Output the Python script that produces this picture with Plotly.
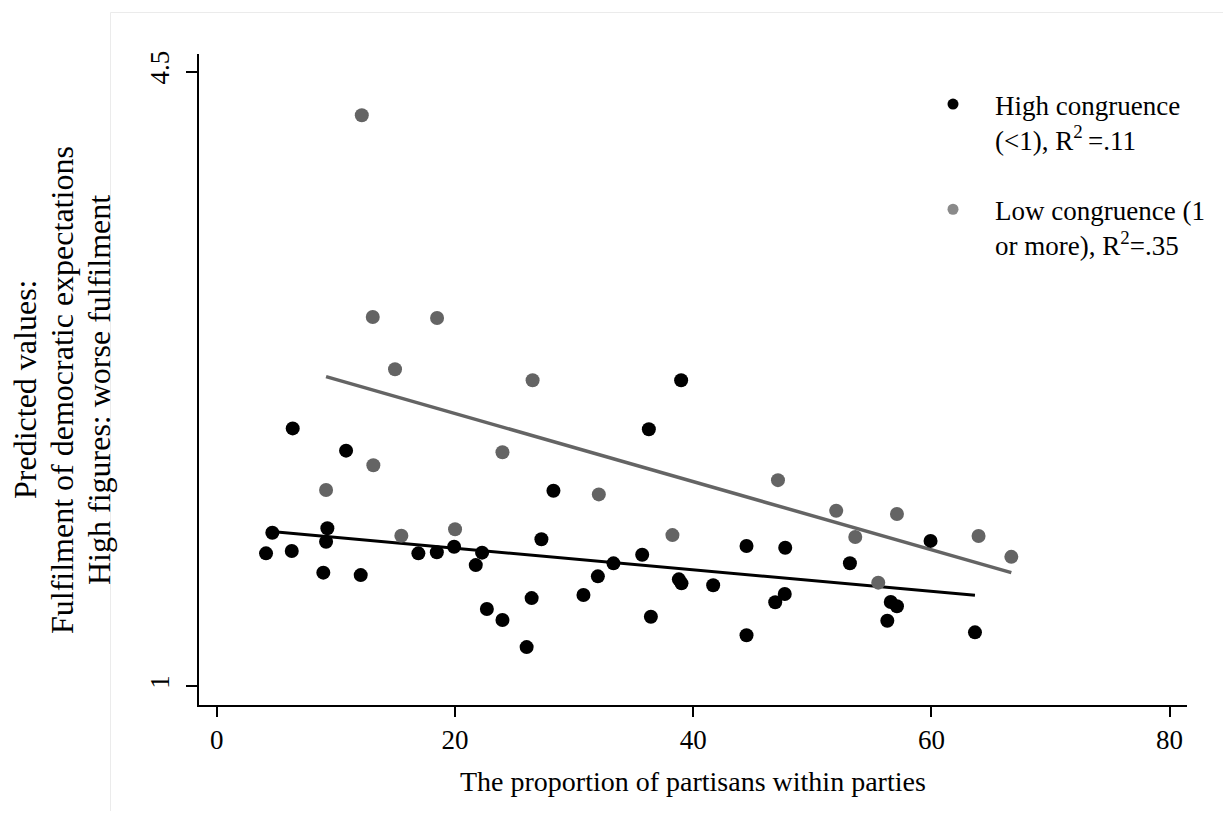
import plotly.graph_objects as go

# ---- data ----
high_x = [4.14, 4.67, 6.30, 6.38, 8.95, 9.18, 9.29, 10.86, 12.09, 16.93, 18.48, 19.93,
          21.75, 22.28, 22.68, 23.99, 26.44, 26.02, 27.26, 28.27, 30.79, 32.00, 33.31,
          35.72, 36.28, 36.45, 38.99, 38.80, 39.02, 41.68, 44.48, 44.48, 46.89, 47.69,
          47.73, 53.16, 56.30, 56.59, 57.11, 59.93, 63.66]
high_y = [1.756, 1.873, 1.769, 2.468, 1.646, 1.822, 1.899, 2.341, 1.632, 1.756, 1.762, 1.794,
          1.689, 1.760, 1.439, 1.376, 1.501, 1.222, 1.836, 2.113, 1.519, 1.625, 1.699,
          1.748, 2.463, 1.395, 2.742, 1.608, 1.585, 1.574, 1.798, 1.289, 1.477, 1.524,
          1.788, 1.700, 1.372, 1.479, 1.455, 1.827, 1.306]

low_x = [12.18, 13.10, 18.50, 14.97, 26.52, 13.15, 9.18, 15.50, 20.01, 23.99, 32.08,
         38.26, 47.12, 52.01, 53.61, 57.11, 55.54, 63.96, 66.71]
low_y = [4.252, 3.103, 3.097, 2.805, 2.742, 2.258, 2.117, 1.856, 1.893, 2.332, 2.092,
         1.860, 2.173, 1.999, 1.849, 1.980, 1.589, 1.855, 1.736]

# fitted lines (endpoints)
high_fit_x = [4.14, 63.66]
high_fit_y = [1.883, 1.517]
low_fit_x = [9.18, 66.71]
low_fit_y = [2.763, 1.646]

x_ticks = [0, 20, 40, 60, 80]
y_ticks = [1, 4.5]
y_tick_labels = ["1", "4.5"]

legend_high = "High congruence<br>(<1), R<sup>2</sup>\u2009=.11"
legend_low = "Low congruence (1<br>or more), R<sup>2</sup>=.35"
x_title = "The proportion of partisans within parties"
y_title_lines = ["Predicted values:",
                 "Fulfilment of democratic expectations",
                 "High figures: worse fulfilment"]

FONT = "Liberation Serif, Times New Roman, serif"
BLACK = "#000000"
GRAY = "#646464"
LEG_GRAY = "#8a8a8a"

# page body has an 8px margin: the figure starts at screen (8, 8)
OFF = 8
W, H = 1231 - 2 * OFF, 819 - 2 * OFF
PL, PR, PT, PB = 199, 1187, 54, 705          # plot area in screen pixels
L, R, T, B = PL - OFF, W - (PR - OFF), PT - OFF, H - (PB - OFF)
pw, ph = W - L - R, H - T - B


def px(sx):
    return (sx - PL) / pw


def py(sy):
    return (PB - sy) / ph


fig = go.Figure()

fig.add_trace(go.Scatter(x=low_fit_x, y=low_fit_y, mode="lines",
                         line=dict(color=GRAY, width=3.5), showlegend=False,
                         hoverinfo="skip"))
fig.add_trace(go.Scatter(x=high_fit_x, y=high_fit_y, mode="lines",
                         line=dict(color=BLACK, width=3), showlegend=False,
                         hoverinfo="skip"))
fig.add_trace(go.Scatter(x=low_x, y=low_y, mode="markers",
                         marker=dict(color=GRAY, size=14, line=dict(width=0)),
                         showlegend=False))
fig.add_trace(go.Scatter(x=high_x, y=high_y, mode="markers",
                         marker=dict(color=BLACK, size=14, line=dict(width=0)),
                         showlegend=False))

# legend entries
fig.add_trace(go.Scatter(x=[None], y=[None], mode="markers", name=legend_high,
                         legendgroup="a",
                         marker=dict(color=BLACK, size=11, line=dict(width=0))))
fig.add_trace(go.Scatter(x=[None], y=[None], mode="markers", name=legend_low,
                         legendgroup="b",
                         marker=dict(color=LEG_GRAY, size=11, line=dict(width=0))))

annotations = [
    dict(text=x_title, xref="paper", yref="paper",
         x=px(693), y=py(781),
         xanchor="center", yanchor="middle", showarrow=False,
         font=dict(family=FONT, size=28, color="black")),
]
for sx, line in zip([25, 62, 99], y_title_lines):
    annotations.append(dict(text=line, xref="paper", yref="paper",
                            x=px(sx), y=py(390),
                            xanchor="center", yanchor="middle", showarrow=False,
                            textangle=-90,
                            font=dict(family=FONT, size=32, color="black")))

fig.update_layout(
    width=W, height=H,
    margin=dict(l=L, r=R, t=T, b=B, pad=0),
    paper_bgcolor="white", plot_bgcolor="white",
    font=dict(family=FONT, color="black", size=26),
    showlegend=True,
    legend=dict(x=px(911), y=py(80), xanchor="left", yanchor="top",
                bgcolor="rgba(0,0,0,0)", borderwidth=0,
                font=dict(family=FONT, size=27, color="black"),
                itemwidth=74, valign="top", traceorder="grouped",
                tracegroupgap=32, itemclick=False),
    xaxis=dict(range=[-1.487, 81.46], tickmode="array", tickvals=x_ticks,
               ticks="outside", ticklen=10, tickwidth=2, tickcolor="black",
               showline=True, linewidth=2, linecolor="black", mirror=False,
               showgrid=False, zeroline=False,
               tickfont=dict(family=FONT, size=27, color="black")),
    yaxis=dict(range=[0.892, 4.601], tickmode="array", tickvals=y_ticks,
               ticktext=y_tick_labels, tickangle=-90, ticklabelstandoff=6,
               ticks="outside", ticklen=11, tickwidth=2, tickcolor="black",
               showline=True, linewidth=2, linecolor="black", mirror=False,
               showgrid=False, zeroline=False,
               tickfont=dict(family=FONT, size=27, color="black")),
    annotations=annotations,
    shapes=[
        dict(type="rect", xref="paper", yref="paper",
             x0=px(110.5), x1=px(1240),
             y0=py(830), y1=py(12.5),
             line=dict(color="#ebebeb", width=1), fillcolor="rgba(0,0,0,0)",
             layer="below"),
    ],
)

fig.write_html("out.html")
